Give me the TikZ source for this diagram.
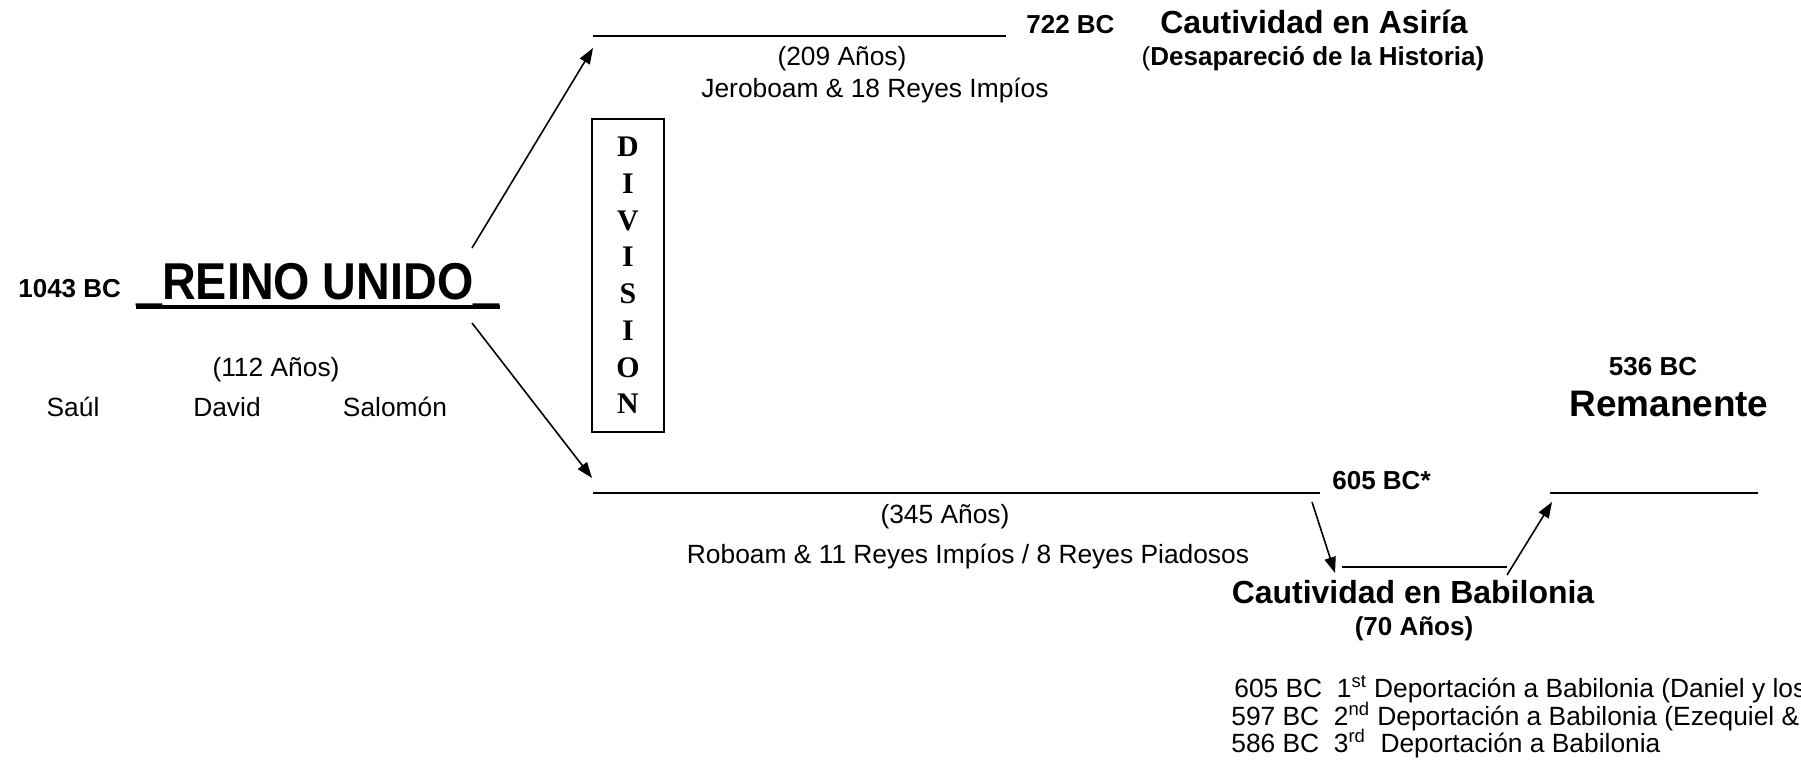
\documentclass[tikz,border=0pt]{standalone}
\usepackage{fontspec}
\setmainfont{Liberation Sans}
\newfontfamily\divfont{Liberation Serif}
\newfontfamily\titlefont[FakeStretch=0.9]{Liberation Sans}
\usetikzlibrary{arrows.meta}

\begin{document}
\begin{tikzpicture}[
  sm/.style={inner sep=0pt,font=\fontsize{15}{17}\selectfont},
  smb/.style={inner sep=0pt,font=\fontsize{14.8}{17}\selectfont\bfseries},
  big/.style={inner sep=0pt,font=\fontsize{18.2}{21}\selectfont\bfseries},
  arr/.style={-{Triangle[length=9pt,width=6.5pt]},line width=0.9pt},
  tl/.style={line width=1.1pt}]

\useasboundingbox (0,0) rectangle (36.02,15.38);


\node[smb,anchor=base west] (y1043) at (0.36,9.42) {1043 BC};

\node[inner sep=0pt,anchor=base west,font=\titlefont\fontsize{29.5}{33}\selectfont\bfseries]
(reino) at (2.72,9.38) {\_REINO UNIDO\_};
\draw[line width=2.2pt] ([yshift=-4pt]reino.base west)--([yshift=-4pt]reino.base east);

\node[sm,anchor=base] (a112) at (5.52,7.84) {(112 Años)};
\node[sm,anchor=base] (saul) at (1.46,7.04) {Saúl};
\node[sm,anchor=base] (david) at (4.54,7.04) {David};
\node[sm,anchor=base] (salomon) at (7.90,7.04) {Salomón};

\coordinate (splitU) at (9.44,10.42);
\coordinate (splitD) at (9.44,8.92);


\node[draw,line width=0.9pt,minimum width=1.44cm,minimum height=6.26cm,
inner sep=0pt,align=center,font=\divfont\bfseries\fontsize{17}{20.9}\selectfont]
(division) at (12.56,9.87) {D\\I\\V\\I\\S\\I\\O\\N};


\coordinate (israelS) at (11.86,14.66);
\coordinate (israelE) at (20.12,14.66);
\coordinate (israelIn) at (11.86,14.42);

\draw[tl] (israelS)--(israelE);
\draw[arr] (splitU)--(israelIn);

\node[smb,anchor=base west] (y722) at (20.52,14.70) {722 BC};
\node[big,anchor=base] (asiria) at (26.28,14.70) {Cautividad en Asiría};
\node[smb,anchor=base] (desap) at (26.26,14.06) {{\mdseries(}Desapareció de la Historia)};

\node[sm,anchor=base] (a209) at (16.84,14.06) {(209 Años)};
\node[sm,anchor=base] (jeroboam) at (17.50,13.42) {Jeroboam \& 18 Reyes Impíos};


\coordinate (judaS) at (11.86,5.52);
\coordinate (judaE) at (26.40,5.52);
\coordinate (judaIn) at (11.84,5.82);

\draw[tl] (judaS)--(judaE);
\draw[arr] (splitD)--(judaIn);

\node[smb,anchor=base west] (y605) at (26.64,5.58) {605 BC*};
\node[sm,anchor=base] (a345) at (18.90,4.90) {(345 Años)};
\node[sm,anchor=base] (roboam) at (19.36,4.10) {Roboam \& 11 Reyes Impíos / 8 Reyes Piadosos};


\coordinate (exilOut) at (26.24,5.34);
\coordinate (exilIn) at (26.70,3.92);
\coordinate (exilS) at (26.84,4.04);
\coordinate (exilE) at (30.14,4.04);
\coordinate (backOut) at (30.14,3.88);
\coordinate (backIn) at (31.04,5.34);

\draw[arr] (exilOut)--(exilIn);
\draw[tl] (exilS)--(exilE);
\draw[arr] (backOut)--(backIn);

\node[big,anchor=base] (babilonia) at (28.26,3.30) {Cautividad en Babilonia};
\node[smb,anchor=base] (a70) at (28.28,2.66) {(70 Años)};


\coordinate (remS) at (31.00,5.52);
\coordinate (remE) at (35.16,5.52);

\draw[tl] (remS)--(remE);

\node[smb,anchor=base] (y536) at (33.06,7.86) {536 BC};
\node[inner sep=0pt,anchor=base,font=\fontsize{21}{24}\selectfont\bfseries]
(remanente) at (33.38,7.04) {Remanente};


\node[sm,anchor=base west] (dep1) at (24.68,1.44)
{605 BC\ \ 1\textsuperscript{st} Deportación a Babilonia (Daniel y los};
\node[sm,anchor=base west] (dep2) at (24.62,0.88)
{597 BC\ \ 2\textsuperscript{nd} Deportación a Babilonia (Ezequiel \&};
\node[sm,anchor=base west] (dep3) at (24.62,0.34)
{586 BC\ \ 3\textsuperscript{rd}\ \ Deportación a Babilonia};

\end{tikzpicture}
\end{document}
